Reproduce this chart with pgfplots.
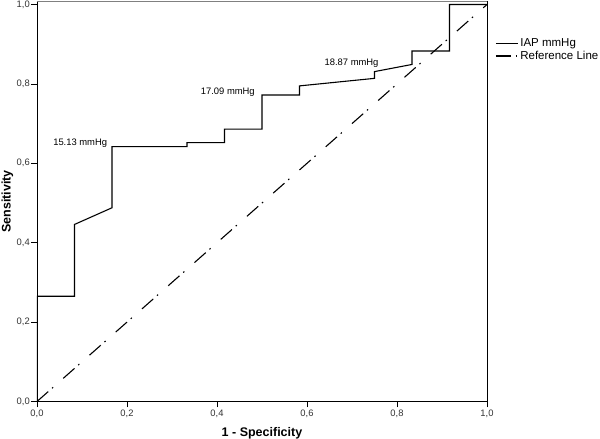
\documentclass[border=0pt]{standalone}
\usepackage{fontspec}
\setmainfont{Liberation Sans}
\usepackage{pgfplots}
\pgfplotsset{compat=1.18}

\begin{document}
\begin{tikzpicture}
\begin{axis}[
    scale only axis,
    width=450pt, height=400pt,
    xmin=0, xmax=1, ymin=0, ymax=1.0076,
    xtick={0,0.2,0.4,0.6,0.8,1},
    ytick={0,0.2,0.4,0.6,0.8,1},
    tick pos=left,
    tick align=outside,
    major tick length=6pt,
    tick style={black, line width=0.8pt},
    axis line style={line width=0.9pt},
    /pgf/number format/.cd, use comma, fixed, fixed zerofill, precision=1, assume math mode=true,
    /pgfplots/.cd,
    ticklabel style={font=\fontsize{9.4}{11}\selectfont, text=black!80},
    yticklabel style={inner sep=1pt},
    xticklabel style={inner sep=2pt},
    xlabel={1 - Specificity},
    ylabel={Sensitivity},
    every axis x label/.style={font=\fontsize{12.5}{14}\selectfont\bfseries, at={(axis description cs:0.5,-0.0788)}, anchor=center},
    every axis y label/.style={font=\fontsize{12.5}{14}\selectfont\bfseries, at={(axis description cs:-0.0656,0.5)}, anchor=center, rotate=90},
    legend style={at={(axis description cs:1.0156,0.915)}, anchor=north west, draw=none, fill=none,
        font=\fontsize{11.5}{13}\selectfont, row sep=-1pt, inner sep=1pt},
    legend cell align=left,
    legend image code/.code={\draw[#1] (0pt,0pt) -- (22pt,0pt);},
]
\addplot[black, line width=1.1pt] coordinates {
    (0,0) (0,0.265) (0.0833,0.265) (0.0833,0.446) (0.1667,0.488)
    (0.1667,0.642) (0.3333,0.642) (0.3333,0.652) (0.4167,0.652)
    (0.4167,0.686) (0.5,0.686) (0.5,0.772) (0.5833,0.772)
    (0.5833,0.795) (0.75,0.814) (0.75,0.831) (0.8333,0.849)
    (0.8333,0.883) (0.9167,0.883) (0.9167,1) (1,1)
};
\addlegendentry{IAP mmHg}
\addplot[black, line width=1.1pt, dash pattern=on 15pt off 5pt on 1.5pt off 13.5pt] coordinates {
    (0,0) (1,1)
};
\addlegendentry{Reference Line}
\draw[gray, line width=1.5pt] (rel axis cs:0,1) -- (rel axis cs:1,1);
\node[font=\fontsize{9.4}{11}\selectfont] at (axis cs:0.096,0.651) {15.13 mmHg};
\node[font=\fontsize{9.4}{11}\selectfont] at (axis cs:0.424,0.779) {17.09 mmHg};
\node[font=\fontsize{9.4}{11}\selectfont] at (axis cs:0.699,0.852) {18.87 mmHg};
\coordinate (bl) at (rel axis cs:0,0);
\end{axis}
\pgfresetboundingbox
\path (bl) ++(-37pt,-37.5pt) rectangle ++(600pt,439pt);
\end{tikzpicture}
\end{document}
